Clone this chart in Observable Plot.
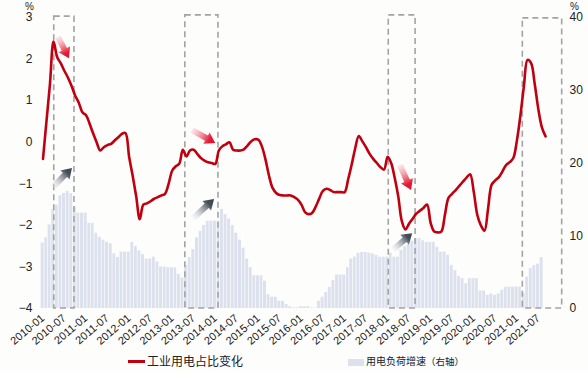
<!DOCTYPE html>
<html><head><meta charset="utf-8">
<script src="https://cdn.jsdelivr.net/npm/d3@7"></script>
<script src="https://cdn.jsdelivr.net/npm/@observablehq/plot@0.6"></script>
<style>
body{margin:0;background:#fdfdfc;}
#wrap{position:relative;width:588px;height:373px;font-family:"Liberation Sans","Noto Sans CJK SC",sans-serif;color:#222;}
.lg{position:absolute;white-space:nowrap;font-family:"Noto Sans CJK SC","Liberation Sans",sans-serif;color:#222;line-height:1;}
</style></head>
<body><div id="wrap"></div>
<script>
// ---- data ----
const startYear = 2010; // first month: 2010-01
// 工业用电占比变化 (%), monthly 2010-01 .. 2021-09
const industryShare = [
  -0.4, 0.5, 1.4, 2.42, 2.05, 1.9, 1.72, 1.55, 1.35, 1.12, 0.95, 0.72,
  0.65, 0.45, 0.22, 0.0, -0.2, -0.12, -0.07, -0.04, 0.04, 0.12, 0.2, 0.22,
  -0.35, -0.8, -1.3, -1.85, -1.5, -1.47, -1.42, -1.36, -1.32, -1.28, -1.24, -1.0,
  -0.68, -0.58, -0.52, -0.18, -0.34, -0.2, -0.18, -0.28, -0.38, -0.44, -0.48, -0.5,
  -0.52, -0.2, -0.1, -0.05, 0.0, -0.18, -0.2, -0.2, -0.17, -0.08, 0.02, 0.07,
  0.06, -0.1, -0.4, -0.8, -1.1, -1.22, -1.27, -1.28, -1.28, -1.28, -1.32, -1.38,
  -1.5, -1.68, -1.73, -1.7, -1.55, -1.35, -1.17, -1.12, -1.15, -1.2, -1.2, -1.2,
  -1.2, -0.9, -0.55, -0.15, 0.15, 0.02, -0.12, -0.28, -0.4, -0.5, -0.6, -0.66,
  -0.35, -0.5, -0.85, -1.3, -1.9, -2.1, -1.96, -1.84, -1.72, -1.65, -1.58, -1.5,
  -1.95, -2.15, -2.17, -2.15, -1.75, -1.34, -1.24, -1.15, -1.05, -0.95, -0.85, -0.77,
  -1.2, -1.75, -2.0, -2.13, -1.6, -1.02, -0.92, -0.84, -0.7, -0.55, -0.48, -0.38,
  0.05, 0.65, 1.35, 1.98, 1.9, 1.4, 0.8, 0.35, 0.14
];
// 用电负荷增速 (%, right axis), monthly 2010-01 .. 2021-08
const loadGrowth = [
  9.0, 9.7, 11.5, 13.6, 14.2, 15.5, 15.8, 16.1, 15.8, 13.9, 13.1, 13.1,
  13.1, 11.7, 11.7, 10.35, 9.8, 9.4, 9.1, 8.9, 7.5, 7.0, 7.75, 7.75,
  7.75, 9.1, 8.5, 7.9, 7.4, 6.8, 6.8, 7.05, 6.4, 5.7, 5.7, 5.6,
  5.6, 5.6, 4.7, 4.2, 5.9, 7.0, 8.1, 9.7, 10.6, 11.4, 12.0, 12.0,
  12.0, 12.0, 13.6, 12.9, 12.3, 11.4, 10.35, 9.4, 8.3, 6.8, 5.6, 4.5,
  4.5, 4.5, 3.75, 1.9, 1.55, 1.55, 1.0, 1.0, 0.55, 0.25, 0.1, 0.1,
  0.25, 0.25, 0.25, 0.1, 0.05, 1.0, 1.55, 2.2, 2.9, 3.85, 4.6, 4.6,
  4.6, 5.6, 6.8, 7.05, 7.6, 7.7, 7.7, 7.6, 7.5, 7.3, 7.05, 7.05,
  7.05, 7.6, 7.05, 7.05, 8.0, 8.5, 8.8, 9.25, 9.6, 9.6, 9.3, 9.1,
  9.1, 9.1, 8.4, 7.75, 7.75, 7.3, 5.9, 5.2, 4.4, 4.1, 3.4, 4.1,
  4.1, 4.1, 2.4, 2.4, 1.8, 2.0, 1.8, 2.0, 2.5, 2.9, 2.95, 2.95,
  2.95, 2.95, 2.1, 4.3, 5.5, 5.9, 6.1, 7.0
];
const xTickLabels = ["2010-01","2010-07","2011-01","2011-07","2012-01","2012-07","2013-01","2013-07",
  "2014-01","2014-07","2015-01","2015-07","2016-01","2016-07","2017-01","2017-07","2018-01","2018-07",
  "2019-01","2019-07","2020-01","2020-07","2021-01","2021-07"];
const leftTicks = [-4, -3, -2, -1, 0, 1, 2, 3];
const rightTicks = [0, 10, 20, 30, 40];
const leftDomain = [-4, 3];
const rightDomain = [0, 40];
// highlight boxes: month offsets from 2010-01 and top value (left axis)
const boxFrom = [3.7, 40.2, 96.8, 134.2];
const boxTo = [9.3, 49.4, 104.3, 145.1];
const boxTop = [3.02, 3.05, 3.05, 2.98];
// arrows: month offsets and left-axis values, tail -> head
const arrowKind = ["red", "red", "red", "gray", "gray", "gray"];
const arrowI1 = [4.85, 42.2, 100.1, 3.45, 42.5, 98.2];
const arrowV1 = [2.52, 0.28, -0.56, -1.09, -1.84, -2.6];
const arrowI2 = [7.9, 48.6, 103.2, 8.75, 48.3, 103.5];
const arrowV2 = [2.01, -0.03, -1.16, -0.63, -1.38, -2.2];
const legendLabels = ["工业用电占比变化", "用电负荷增速", "（右轴）"];
const unitLabel = "%";

// ---- helpers ----
function monthDate(k) {
  const f = Math.floor(k);
  const a = Date.UTC(startYear, f, 1), b = Date.UTC(startYear, f + 1, 1);
  return new Date(a + (k - f) * (b - a));
}
const toLeft = v => leftDomain[0] + (v - rightDomain[0]) * (leftDomain[1] - leftDomain[0]) / (rightDomain[1] - rightDomain[0]);
const fromLeft = y => rightDomain[0] + (y - leftDomain[0]) * (rightDomain[1] - rightDomain[0]) / (leftDomain[1] - leftDomain[0]);

const lineData = industryShare.map((v, i) => ({date: monthDate(i + 0.5), v}));
const barData = loadGrowth.map((v, i) => ({x1: monthDate(i), x2: monthDate(i + 1), v}));
const boxData = boxFrom.map((f, j) => ({x1: monthDate(f), x2: monthDate(boxTo[j]), y2: boxTop[j]}));
const tickDates = xTickLabels.map(s => { const [y, m] = s.split("-").map(Number); return monthDate((y - startYear) * 12 + (m - 1) + 0.5); });
const tickLabelMap = new Map(tickDates.map((d, i) => [+d, xTickLabels[i]]));

const NS = "http://www.w3.org/2000/svg";
function arrowMark(index, scales) {
  const x = scales.x, y = scales.y;
  const g = document.createElementNS(NS, "g");
  if (!x || !y) return g;
  const defs = document.createElementNS(NS, "defs");
  g.appendChild(defs);
  arrowKind.forEach((kind, j) => {
    const x1 = x(monthDate(arrowI1[j])), y1 = y(arrowV1[j]);
    const x2 = x(monthDate(arrowI2[j])), y2 = y(arrowV2[j]);
    const id = "arrowgrad" + j;
    const lg = document.createElementNS(NS, "linearGradient");
    lg.setAttribute("id", id);
    lg.setAttribute("gradientUnits", "userSpaceOnUse");
    lg.setAttribute("x1", x1); lg.setAttribute("y1", y1);
    lg.setAttribute("x2", x2); lg.setAttribute("y2", y2);
    const c0 = kind === "red" ? "#f4a0a8" : "#e4e6ea";
    const c1 = kind === "red" ? "#e2102a" : "#3b4550";
    lg.innerHTML = `<stop offset="0" stop-color="${c0}" stop-opacity="0.25"/><stop offset="0.75" stop-color="${c1}" stop-opacity="0.95"/><stop offset="1" stop-color="${c1}"/>`;
    defs.appendChild(lg);
    const dx = x2 - x1, dy = y2 - y1, L = Math.hypot(dx, dy);
    const ux = dx / L, uy = dy / L, nx = -uy, ny = ux;
    const hl = 10, hw = 6.5, sw = 3;
    const bx = x2 - ux * hl, by = y2 - uy * hl;
    const pts = [
      [x1 + nx * sw, y1 + ny * sw], [bx + nx * sw, by + ny * sw], [bx + nx * hw, by + ny * hw],
      [x2, y2], [bx - nx * hw, by - ny * hw], [bx - nx * sw, by - ny * sw], [x1 - nx * sw, y1 - ny * sw]
    ];
    const p = document.createElementNS(NS, "path");
    p.setAttribute("d", "M" + pts.map(q => q[0].toFixed(2) + "," + q[1].toFixed(2)).join("L") + "Z");
    p.setAttribute("fill", `url(#${id})`);
    g.appendChild(p);
  });
  return g;
}

const chart = Plot.plot({
  width: 588,
  height: 350,
  marginLeft: 37,
  marginRight: 25,
  marginTop: 17,
  marginBottom: 42,
  x: {type: "utc", domain: [monthDate(-1), monthDate(145.5)]},
  y: {domain: leftDomain},
  style: {background: "transparent", fontFamily: "'Liberation Sans', 'Noto Sans CJK SC', sans-serif", fontSize: "12px", color: "#222"},
  marks: [
    Plot.rect(barData, {x1: "x1", x2: "x2", y1: leftDomain[0], y2: d => toLeft(d.v), fill: "#dce1ed", insetRight: 0.7}),
    Plot.rect(boxData, {x1: "x1", x2: "x2", y1: leftDomain[0], y2: "y2", fill: "none", stroke: "#a3a3a3", strokeWidth: 1.6, strokeDasharray: "6,4"}),
    Plot.line(lineData, {x: "date", y: "v", stroke: "#c00010", strokeWidth: 2.6, curve: "catmull-rom"}),
    arrowMark,
    Plot.axisY(leftTicks, {anchor: "left", tickSize: 0, tickPadding: 5, fontSize: 12, label: null}),
    Plot.axisY(rightTicks.map(toLeft), {anchor: "right", tickSize: 0, tickPadding: 6, fontSize: 12, label: null, tickFormat: d => String(Math.round(fromLeft(d)))}),
    Plot.axisX(tickDates, {anchor: "bottom", tickSize: 0, tickPadding: 8, tickRotate: -40, fontSize: 11, label: null, tickFormat: d => tickLabelMap.get(+d)}),
    Plot.text([unitLabel], {frameAnchor: "top-left", textAnchor: "middle", lineAnchor: "middle", dx: -8, dy: -11, fontSize: 10, fill: "#222"}),
    Plot.text([unitLabel], {frameAnchor: "top-right", textAnchor: "middle", lineAnchor: "middle", dx: 11, dy: -11, fontSize: 10, fill: "#222"})
  ]
});
const wrap = document.getElementById("wrap");
wrap.appendChild(chart);
chart.style.position = "absolute"; chart.style.left = "0"; chart.style.top = "0";

function addDiv(style, html) {
  const d = document.createElement("div");
  d.className = "lg";
  d.setAttribute("style", style);
  d.innerHTML = html || "";
  wrap.appendChild(d);
}
addDiv("left:128px;top:360px;width:17px;height:3px;background:#c00010;");
addDiv("left:147px;top:355px;font-size:12px;", legendLabels[0]);
addDiv("left:348px;top:359px;width:16px;height:7px;background:#dce1ed;");
addDiv("left:366px;top:356px;font-size:10px;", legendLabels[1] + `<span style="font-size:9.5px">${legendLabels[2]}</span>`);
</script>
</body></html>
